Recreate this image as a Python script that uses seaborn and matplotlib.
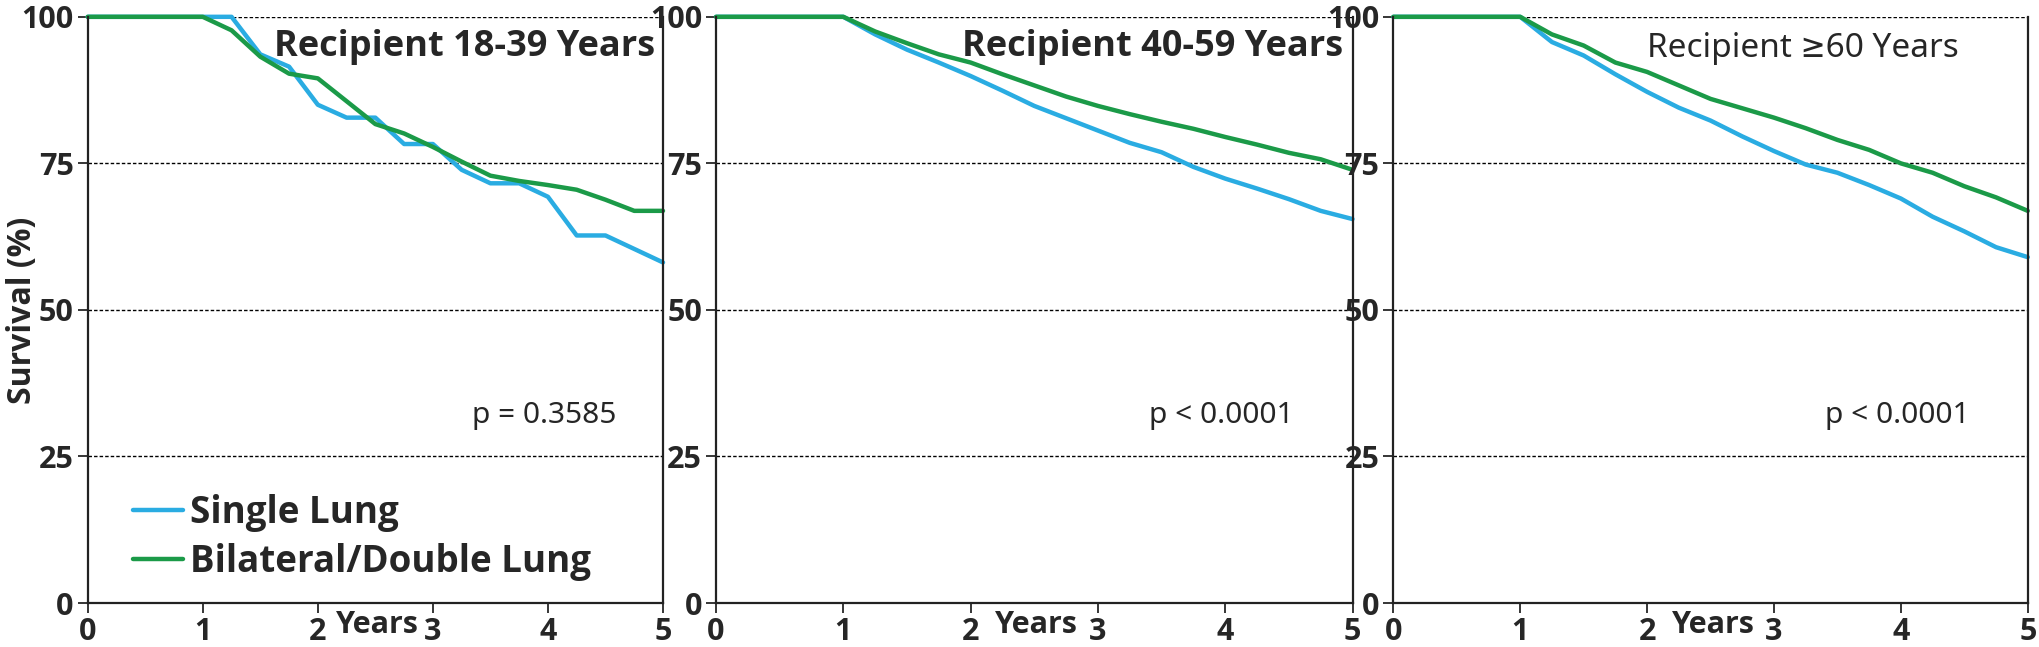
import pandas as pd
import seaborn as sns
import matplotlib.pyplot as plt
import matplotlib.transforms as mtransforms
from matplotlib.font_manager import FontProperties

# Data (survival %, quarterly points over 5 years)
years = [0, 0.25, 0.5, 0.75, 1.0, 1.25, 1.5, 1.75, 2.0, 2.25, 2.5, 2.75,
         3.0, 3.25, 3.5, 3.75, 4.0, 4.25, 4.5, 4.75, 5.0]

single_18_39 = [100, 100, 100, 100, 100, 100, 93.6, 91.5, 85.0, 82.8, 82.8, 78.3,
                78.3, 73.9, 71.6, 71.6, 69.3, 62.7, 62.7, 60.4, 58.1]
double_18_39 = [100, 100, 100, 100, 100, 97.7, 93.2, 90.3, 89.5, 85.6, 81.7, 80.1,
                77.8, 75.3, 72.9, 72.0, 71.3, 70.5, 68.8, 66.9, 66.9]

single_40_59 = [100, 100, 100, 100, 100, 97.0, 94.4, 92.2, 89.9, 87.4, 84.8, 82.7,
                80.6, 78.5, 76.9, 74.4, 72.4, 70.7, 68.9, 66.9, 65.5]
double_40_59 = [100, 100, 100, 100, 100, 97.5, 95.5, 93.6, 92.2, 90.2, 88.3, 86.4,
                84.8, 83.4, 82.1, 80.9, 79.5, 78.2, 76.8, 75.7, 73.9]

single_60 = [100, 100, 100, 100, 100, 95.7, 93.4, 90.2, 87.2, 84.5, 82.3, 79.6,
             77.1, 74.8, 73.4, 71.3, 69.0, 65.9, 63.4, 60.7, 59.0]
double_60 = [100, 100, 100, 100, 100, 97.0, 95.1, 92.2, 90.6, 88.3, 86.0, 84.4,
             82.8, 81.0, 79.0, 77.3, 75.0, 73.4, 71.1, 69.2, 66.9]

groups = ['Single Lung', 'Bilateral/Double Lung']
titles = ['Recipient 18-39 Years', 'Recipient 40-59 Years', 'Recipient \u226560 Years']
pvalues = ['p = 0.3585', 'p < 0.0001', 'p < 0.0001']
panels = [(single_18_39, double_18_39), (single_40_59, double_40_59), (single_60, double_60)]

palette = {'Single Lung': '#2aace2', 'Bilateral/Double Lung': '#1b9a48'}

sns.set_style('white')
plt.rcParams['font.family'] = ['Open Sans', 'DejaVu Sans']
bold_c = {'family': ['Open Sans', 'DejaVu Sans'], 'weight': 'bold', 'stretch': 'condensed'}
reg_c = {'family': ['Noto Sans', 'DejaVu Sans'], 'weight': 'normal', 'stretch': 'condensed'}

fig = plt.figure(figsize=(20.4, 6.47), dpi=100)
boxes = [(0.043, 0.325), (0.351, 0.663), (0.683, 0.994)]
bottom, top = 0.068, 0.974

for i, ((single, double), (x0, x1)) in enumerate(zip(panels, boxes)):
    ax = fig.add_axes([x0, bottom, x1 - x0, top - bottom])
    df = pd.DataFrame({
        'Years': years * 2,
        'Survival': single + double,
        'Group': [groups[0]] * len(years) + [groups[1]] * len(years),
    })
    sns.lineplot(data=df, x='Years', y='Survival', hue='Group', palette=palette,
                 hue_order=groups, linewidth=3.2, ax=ax, legend=(i == 0))
    for ln in ax.lines:
        ln.set_clip_on(False)

    ax.set_xlim(0, 5)
    ax.set_ylim(0, 100)
    ax.set_xticks(range(6))
    ax.set_yticks([0, 25, 50, 75, 100])
    for v in [25, 50, 75, 100]:
        ax.axhline(v, color='black', lw=1.0, ls=(0, (2.5, 1.5)), zorder=0)
    ax.tick_params(axis='both', direction='out', length=7, width=1.3,
                   bottom=True, left=True, pad=3)
    for lab in ax.get_xticklabels() + ax.get_yticklabels():
        lab.set(size=22, **bold_c)
    ax.spines['top'].set_visible(False)
    for s in ['left', 'right', 'bottom']:
        ax.spines[s].set_color('#222222')
        ax.spines[s].set_linewidth(1.6)
    ax.set_xlabel('')
    ax.set_ylabel('')

    trans = mtransforms.blended_transform_factory(ax.transData, ax.transAxes)
    ax.text(2.52, -0.038, 'Years', transform=trans, ha='center', va='center',
            fontsize=22, **bold_c)

    if i < 2:
        ax.text(4.93, 94.8, titles[i], ha='right', va='center', fontsize=26, **bold_c)
    else:
        ax.text(3.23, 94.6, titles[i], ha='center', va='center', fontsize=24, **reg_c)
    ax.text(3.97, 32.0, pvalues[i], ha='center', va='center', fontsize=21.5, **reg_c)

    if i == 0:
        ax.set_ylabel('Survival (%)', fontsize=23, **bold_c)
        ax.yaxis.set_label_coords(-0.085, 0.5)
        leg_font = FontProperties(family=['Open Sans', 'DejaVu Sans'], weight='bold',
                                  stretch='condensed', size=26.5)
        leg = ax.legend(loc='center left', bbox_to_anchor=(0.079, 0.112), frameon=False,
                        prop=leg_font, borderpad=0, borderaxespad=0,
                        handlelength=1.35, handletextpad=0.2, labelspacing=0.3)
        for h in leg.get_lines():
            h.set_linewidth(3.2)

fig.savefig('out.png', dpi=100)
